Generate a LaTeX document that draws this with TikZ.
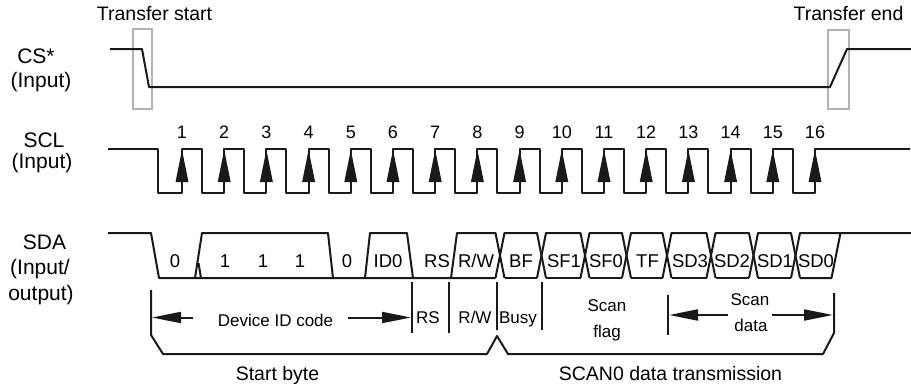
\documentclass[tikz,border=0pt]{standalone}
\usepackage{fontspec}
\setmainfont{Liberation Sans}
\usetikzlibrary{arrows.meta}
\begin{document}
\begin{tikzpicture}[x=1pt,y=-1pt,
  sig/.style={line width=2pt, line join=round, draw=black!90},
  gbox/.style={draw=black!30, line width=1.6pt},
  lbl/.style={inner sep=0pt, anchor=base, font=\fontsize{19.5pt}{22pt}\selectfont},
  side/.style={inner sep=0pt, anchor=base, font=\fontsize{21pt}{24pt}\selectfont},
  num/.style={inner sep=0pt, anchor=base, font=\fontsize{18pt}{20pt}\selectfont},
  cell/.style={inner sep=0pt, anchor=base, font=\fontsize{18.5pt}{20pt}\selectfont},
  ann/.style={inner sep=0pt, anchor=base, font=\fontsize{17pt}{20pt}\selectfont},
  tip/.style={-{Triangle[length=29pt,width=11pt]}, line width=2pt, draw=black!90, fill=black!90}
]
\useasboundingbox (0,0) rectangle (911,388);

% ---- titles ----
\node[lbl] (ts) at (154.5,20) {Transfer start};
\node[lbl] (te) at (848.5,20) {Transfer end};

% ---- left labels ----
\node[side] (cs) at (36,63) {CS*};
\node[side] (csin) at (41,87) {(Input)};
\node[side] (scl) at (44,147) {SCL};
\node[side] (sclin) at (42,168) {(Input)};
\node[side] (sda) at (44.5,249) {SDA};
\node[side] (sdain) at (40,274) {(Input/};
\node[side] (sdaout) at (41,300) {output)};

% ---- CS* ----
\draw[gbox] (133,29) rectangle (152,109);
\draw[gbox] (828,30) rectangle (849,109);
\draw[sig] (110,49) -- (142,49) -- (149,87) -- (830,87) -- (847,49) -- (911,49);

% ---- SCL ----
\draw[sig] (108,149) -- (158,149) -- (158,193)
  \foreach \i in {1,...,15} {
    -- ({182+42.2*(\i-1)},193) -- ({182+42.2*(\i-1)},149)
    -- ({202+42.2*(\i-1)},149) -- ({202+42.2*(\i-1)},193) }
  -- (815,193) -- (815,149) -- (910,149);
\foreach \i in {1,...,16} {
  \pgfmathsetmacro{\r}{182+42.2*(\i-1)}
  \fill[black!90] (\r-6.5,182) -- (\r,150) -- (\r+6.5,182) -- cycle;
  \node[num] (n\i) at (\r,138) {\i};
}

% ---- SDA ----
\draw[sig] (108,233) -- (151,233) -- (159,278) -- (495.5,278);
\draw[sig] (195,278) -- (202,233) -- (328,233) -- (333,278);
\draw[sig] (198.5,263) -- (201,278);
\draw[sig] (365,278) -- (370,233) -- (407,233) -- (413,278);
\draw[sig] (451,278) -- (457,233) -- (495.5,233) -- (504.5,278);
\foreach \a/\b in {500/541.5,541.5/585,585/626.5,626.5/667,667/711,711/753.5,753.5/795.5} {
  \draw[sig] (\a-4.5,278) -- (\a+4.5,233) -- (\b-4.5,233) -- (\b+4.5,278);
  \draw[sig] (\a+4.5,278) -- (\b-4.5,278);
}
\draw[sig] (791,278) -- (800,233) -- (911,233);
\draw[sig] (800,278) -- (831.5,278) -- (840.5,233);

\node[cell] (c0a) at (175,267) {0};
\node[cell] (c1a) at (225,267) {1};
\node[cell] (c1b) at (263,267) {1};
\node[cell] (c1c) at (300,267) {1};
\node[cell] (c0b) at (347,267) {0};
\node[cell] (cid) at (388,267) {ID0};
\node[cell] (crs) at (437,267) {RS};
\node[cell] (crw) at (476,267) {R/W};
\node[cell] (cbf) at (521,267) {BF};
\node[cell] (csf1) at (564,267) {SF1};
\node[cell] (csf0) at (606,267) {SF0};
\node[cell] (ctf) at (647.5,267) {TF};
\node[cell] (csd3) at (690,267) {SD3};
\node[cell] (csd2) at (732,267) {SD2};
\node[cell] (csd1) at (775,267) {SD1};
\node[cell] (csd0) at (816,267) {SD0};

% ---- annotations ----
\draw[sig] (151,290) -- (151,335) -- (163,354) -- (487,354) -- (497,336) -- (508,354)
  -- (823,354) -- (834,333) -- (834,293);
\draw[sig] (412,282) -- (412,333);
\draw[sig] (449,282) -- (449,333);
\draw[sig] (497,282) -- (497,330);
\draw[sig] (542,282) -- (542,330);
\draw[sig] (668,295) -- (668,335);

\coordinate (da) at (193,317.5);
\coordinate (dat) at (152,317.5);
\coordinate (db) at (348,317.5);
\coordinate (dbt) at (411,317.5);
\coordinate (sa) at (728,315);
\coordinate (sat) at (669,315);
\coordinate (sb) at (772,315);
\coordinate (sbt) at (833,315);
\draw[tip] (da) -- (dat);
\draw[tip] (db) -- (dbt);
\draw[tip] (sa) -- (sat);
\draw[tip] (sb) -- (sbt);

\node[ann] (devid) at (275.5,326.5) {Device ID code};
\node[ann] (rs2) at (428,323) {RS};
\node[ann] (rw2) at (475,323) {R/W};
\node[ann] (busy) at (518,323) {Busy};
\node[ann] (scan1) at (607,311.5) {Scan};
\node[ann] (flag) at (607,337) {flag};
\node[ann] (scan2) at (750,305) {Scan};
\node[ann] (data) at (751,331.5) {data};
\node[lbl] (sbyte) at (277.5,380) {Start byte};
\node[lbl] (scan0) at (670.5,380) {SCAN0 data transmission};
\end{tikzpicture}
\end{document}
